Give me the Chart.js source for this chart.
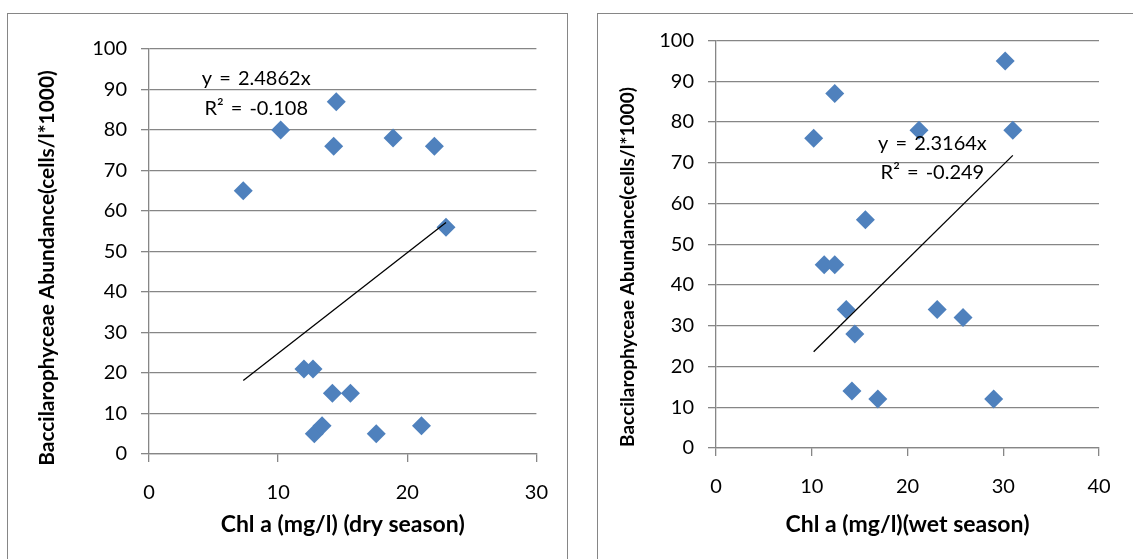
<!DOCTYPE html>
<html>
<head>
<meta charset="utf-8">
<script src="https://cdn.jsdelivr.net/npm/chart.js@4/dist/chart.umd.min.js"></script>
<style>
body { margin: 0; background: #fff; width: 1133px; height: 559px; overflow: hidden; position: relative; }
.box { position: absolute; top: 13px; height: 560px; border: 1px solid #868686; overflow: hidden; }
#boxDry { left: 7px; width: 559px; }
#boxWet { left: 597px; width: 560px; }
canvas { position: absolute; left: 0; top: 0; }
</style>
</head>
<body>
<div class="box" id="boxDry"><canvas id="dry" width="559" height="545"></canvas></div>
<div class="box" id="boxWet"><canvas id="wet" width="535" height="545"></canvas></div>
<script>
// dry season
const dryChl = [7.3, 10.2, 14.5, 14.3, 18.9, 22.1, 23.0, 12.0, 12.7, 14.2, 15.6, 12.8, 13.4, 17.6, 21.1];
const dryAbund = [65, 80, 87, 76, 78, 76, 56, 21, 21, 15, 15, 5, 7, 5, 7];
const drySlope = 2.4862;
const dryEq = ['y = 2.4862x', 'R² = -0.108'];

// wet season
const wetChl = [10.2, 12.4, 30.2, 21.2, 31.0, 15.6, 11.3, 12.4, 13.6, 14.5, 23.1, 25.8, 14.2, 16.9, 29.0];
const wetAbund = [76, 87, 95, 78, 78, 56, 45, 45, 34, 28, 34, 32, 14, 12, 12];
const wetSlope = 2.3164;
const wetEq = ['y = 2.3164x', 'R² = -0.249'];

const yTitle = 'Baccilarophyceae Abundance(cells/l*1000)';
const dryXTitle = 'Chl a (mg/l) (dry season)';
const wetXTitle = 'Chl a (mg/l)(wet season)';

const GRID = '#868686';
const BLUE = '#4F81BD';
const FONT = 'Lato, "Liberation Sans", sans-serif';

const overlay = {
  id: 'overlay',
  afterDraw(chart, args, o) {
    const ctx = chart.ctx, xs = chart.scales.x, ys = chart.scales.y;
    ctx.save();
    ctx.fillStyle = '#000';
    ctx.textAlign = 'center';
    ctx.textBaseline = 'middle';
    ctx.font = o.eqFont;
    if ('wordSpacing' in ctx) ctx.wordSpacing = '2px';
    o.eq.forEach((t, i) => ctx.fillText(t, xs.getPixelForValue(o.eqX), ys.getPixelForValue(o.eqY[i])));
    if ('wordSpacing' in ctx) ctx.wordSpacing = '0px';
    ctx.translate(o.titleX, o.titleY);
    ctx.rotate(-Math.PI / 2);
    ctx.font = o.titleFont;
    ctx.fillText(o.title, 0, 0);
    ctx.restore();
  }
};

function makeChart(id, xs, ys, slope, eq, xMax, xTitle, geo) {
  const pts = xs.map((x, i) => ({x: x, y: ys[i]}));
  const lo = Math.min(...xs), hi = Math.max(...xs);
  new Chart(document.getElementById(id), {
    type: 'scatter',
    data: {
      datasets: [{
        data: [{x: lo, y: slope * lo}, {x: hi, y: slope * hi}],
        showLine: true, borderColor: '#000', borderWidth: 1.3, pointRadius: 0
      }, {
        data: pts,
        pointStyle: 'rectRot', pointRadius: 9.5,
        backgroundColor: BLUE, borderColor: BLUE, borderWidth: 0
      }]
    },
    plugins: [overlay],
    options: {
      responsive: false, animation: false,
      layout: {padding: {left: 0, top: geo.top, right: geo.right, bottom: 0}},
      plugins: {
        legend: {display: false}, tooltip: {enabled: false},
        overlay: {
          eq: eq, eqX: geo.eqX, eqY: geo.eqY, eqFont: '20px ' + FONT,
          title: yTitle, titleX: geo.titleX, titleY: geo.titleY, titleFont: 'bold ' + geo.titleSize + 'px ' + FONT
        }
      },
      scales: {
        x: {
          min: 0, max: xMax,
          ticks: {stepSize: 10, color: '#000', padding: 19, font: {family: FONT, size: 20}},
          grid: {drawOnChartArea: false, drawTicks: true, tickLength: 8, color: GRID, lineWidth: 1.3},
          border: {color: GRID, width: 1.3},
          title: {display: true, text: xTitle, color: '#000', padding: {top: 0, bottom: 21}, font: {family: FONT, size: 23, weight: 'bold'}},
          afterFit: s => { s.height = geo.xH; }
        },
        y: {
          min: 0, max: 100,
          ticks: {stepSize: 10, color: '#000', padding: 14, font: {family: FONT, size: 20}},
          grid: {drawTicks: true, tickLength: 8, color: GRID, lineWidth: 1.3},
          border: {color: GRID, width: 1.3},
          afterFit: s => { s.width = geo.yW; }
        }
      }
    }
  });
}

makeChart('dry', dryChl, dryAbund, drySlope, dryEq, 30, dryXTitle,
  {top: 35, right: 29, yW: 141, xH: 105, eqX: 8.3, eqY: [92.8, 85.4], titleX: 39, titleY: 254, titleSize: 20.9});
makeChart('wet', wetChl, wetAbund, wetSlope, wetEq, 40, wetXTitle,
  {top: 26.5, right: 34, yW: 118, xH: 111, eqX: 22.6, eqY: [74.8, 67.5], titleX: 29.5, titleY: 253, titleSize: 19});
</script>
</body>
</html>
